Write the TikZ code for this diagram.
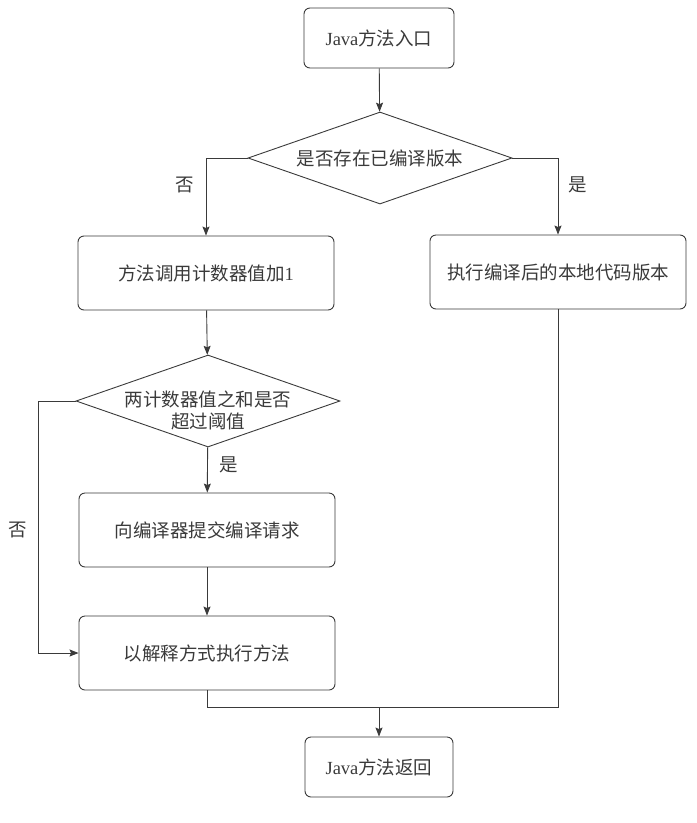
\documentclass[tikz,border=0pt]{standalone}
\usepackage{fontspec}
\setmainfont{Liberation Serif}
\newfontfamily\cjk{Noto Sans CJK SC}
\usetikzlibrary{shapes.geometric,arrows.meta}
\definecolor{inkgray}{HTML}{3A3A3A}

\tikzset{
  stepbox/.style={draw=inkgray, line width=0.9pt, rounded corners=6pt, minimum width=256pt, minimum height=74pt, inner sep=0pt},
  choice/.style={draw=inkgray, line width=0.9pt, diamond, aspect=2.85, minimum width=264pt, minimum height=92pt, inner sep=0pt},
  tag/.style={inner sep=0.75pt},
  line/.style={draw=inkgray, line width=0.9pt},
  flow/.style={line, -{Stealth[length=9pt,width=7pt,inset=1.5pt]}},
}

\begin{document}
\begin{tikzpicture}[x=1pt,y=1pt,yscale=-1,xscale=1, font=\fontsize{18.5}{22}\selectfont\cjk, text=inkgray]
		\useasboundingbox (0,0) rectangle (697,823);

		% Entry and the first test
		\node[stepbox, minimum width=150pt, minimum height=60pt] (entry) at (379,38) {{\rmfamily Java}方法入口};
		\node[choice] (d1) at (380,158) {是否存在已编译版本};

		% Two branches of the first test
		\node[stepbox] (count) at (206,273) {方法调用计数器值加{\rmfamily 1}};
		\node[stepbox] (native) at (558,272) {执行编译后的本地代码版本};

		% The second test (text sits a little low)
		\node[choice] (d2) at (208,401) {};
		\node[tag, align=center] (d2text) at (208,410) {两计数器值之和是否\\超过阈值};

		% Submit and interpret
		\node[stepbox] (submit) at (207,530) {向编译器提交编译请求};
		\node[stepbox] (interp) at (207,653) {以解释方式执行方法};

		% Return
		\node[stepbox, minimum width=148pt, minimum height=60pt] (ret) at (379,767) {{\rmfamily Java}方法返回};

		% Branch labels
		\node[tag] (no1) at (185,185) {否};
		\node[tag] (yes1) at (578,185) {是};
		\node[tag] (yes2) at (229,465) {是};
		\node[tag] (no2) at (18,530) {否};

		% Connectors
		\draw[flow] (entry) -- (d1);
		\draw[flow] (d1.west) -| (count.north);
		\draw[flow] (d1.east) -| (native.north);
		\draw[flow] (count) -- (d2);
		\draw[flow] (d2) -- (submit);
		\draw[flow] (submit) -- (interp);

		% Bypass on the left
		\coordinate (bypass) at (38,401);
		\draw[flow] (d2.west) -- (bypass) |- (interp.west);

		% Join below both paths
		\coordinate (merge) at (379,707);
		\draw[line] (interp.south) |- (merge) -| (native.south);
		\draw[flow] (merge) -- (ret);
	\end{tikzpicture}
\end{document}
